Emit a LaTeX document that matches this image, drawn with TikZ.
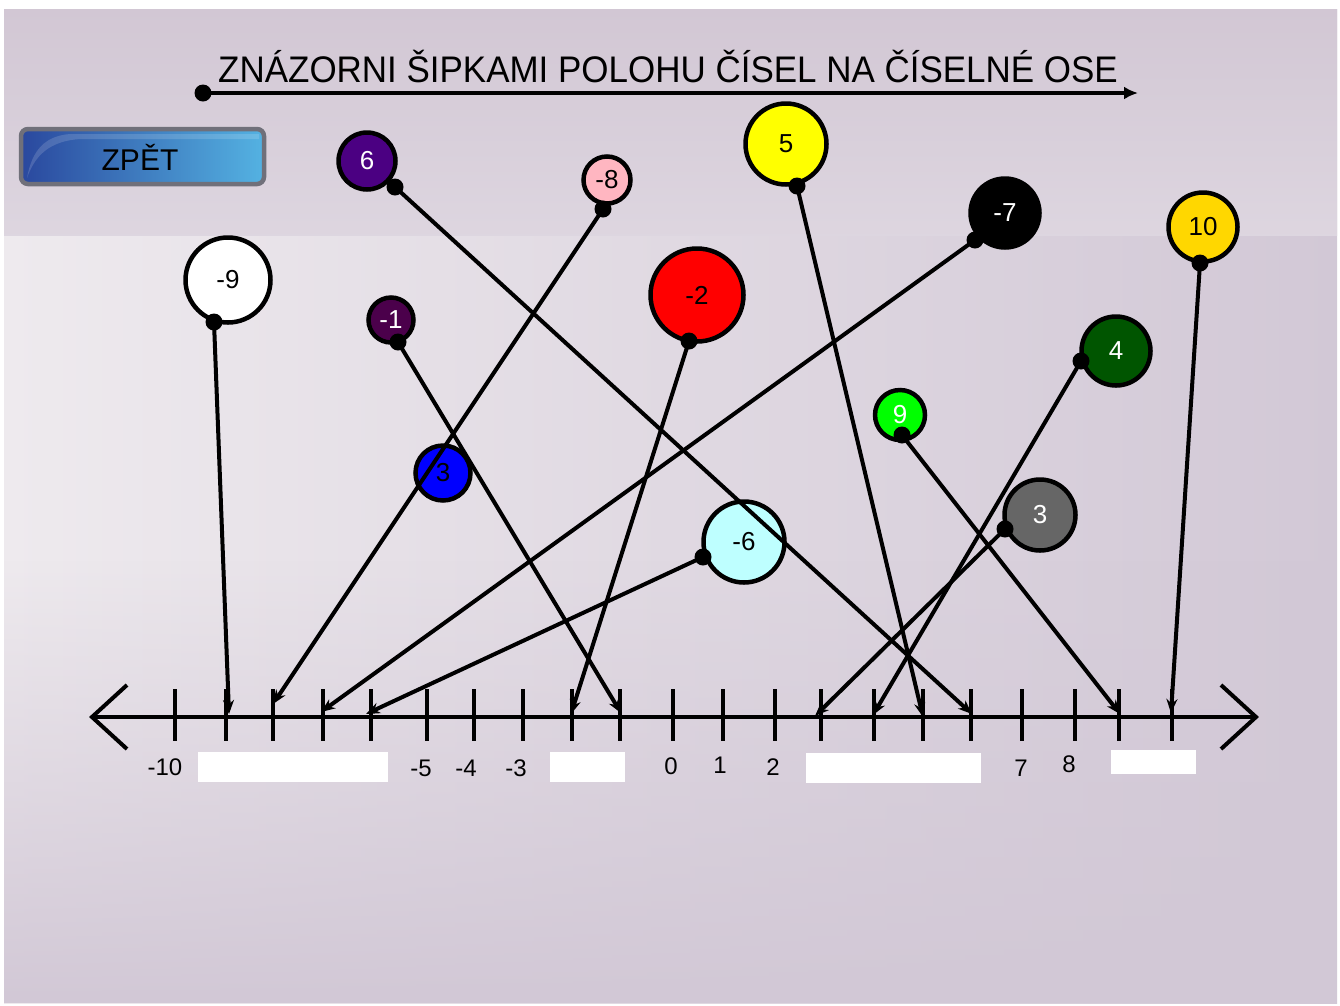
\documentclass[tikz,border=0pt]{standalone}
\usepackage{fontspec}
\setmainfont{Liberation Sans}
\usetikzlibrary{arrows.meta,fadings}
\definecolor{bgA}{RGB}{238,234,238}
\definecolor{bgB}{RGB}{210,200,214}
\definecolor{bgTop}{RGB}{210,199,212}
\definecolor{btnL}{RGB}{42,72,158}
\definecolor{btnR}{RGB}{84,178,226}
\definecolor{btnBorder}{RGB}{112,112,122}
\definecolor{cIndigo}{RGB}{75,0,130}
\definecolor{cPink}{RGB}{255,182,193}
\definecolor{cYellow}{RGB}{255,255,0}
\definecolor{cGold}{RGB}{255,215,0}
\definecolor{cPlum}{RGB}{75,0,75}
\definecolor{cRed}{RGB}{255,0,0}
\definecolor{cDGreen}{RGB}{0,85,0}
\definecolor{cLime}{RGB}{0,255,0}
\definecolor{cBlue}{RGB}{0,0,255}
\definecolor{cCyan}{RGB}{190,255,255}
\definecolor{cGrey}{RGB}{102,102,102}
\begin{document}
\begin{tikzpicture}[x=1pt,y=-1pt,
  ball/.style={circle,draw=black,line width=4.5pt,inner sep=0pt,font=\fontsize{26}{26}\selectfont},
  conn/.style={line width=4pt,-{Stealth[length=14pt,width=11pt]}},
  knob/.style={circle,fill=black,inner sep=0pt,minimum size=17pt},
  tickmark/.style={line width=4.5pt},
  lab/.style={font=\fontsize{24}{24}\selectfont},
  blank/.style={fill=white,draw=none}]
\useasboundingbox (0,0) rectangle (1340,1005);
\fill[white] (0,0) rectangle (1340,1005);
% background
\shade[left color=bgA,right color=bgB] (4,9) rectangle (1337,1003);
\fill[bgB,path fading=north] (4,560) rectangle (1337,1003);
\shade[top color=bgTop,bottom color=bgB!60!bgA] (4,9) rectangle (1337,235);

% title
\node[font=\fontsize{37}{37}\selectfont,anchor=base,xscale=0.945] (title) at (668,82) {ZNÁZORNI ŠIPKAMI POLOHU ČÍSEL NA ČÍSELNÉ OSE};
\node[knob] (tdot) at (203,93) {};
\coordinate (tend) at (1138,93);
\draw[line width=4pt,-{Latex[length=14pt,width=13pt]}] (tdot.center) -- (tend);

% button
\draw[line width=4.5pt,draw=btnBorder,left color=btnL,right color=btnR,rounded corners=7pt] (21,129) rectangle (264,184);
\fill[white,opacity=0.15] (27,178) .. controls (32,150) and (45,136) .. (70,134) -- (259,134) -- (259,139) -- (80,139) .. controls (50,141) and (35,155) .. (27,178) -- cycle;
\node[font=\fontsize{30}{30}\selectfont] (zpet) at (140,157) {ZPĚT};

% axis
\coordinate (axl) at (92,717);
\coordinate (axr) at (1256,717);
\draw[line width=4.5pt] (axl) -- (axr);
\draw[line width=4pt] (127,685) -- (axl) -- (127,749);
\draw[line width=4pt] (1221,685) -- (axr) -- (1221,749);
\foreach \x [count=\i] in {175,226,273,323,371,427,474,523,572,620,673,723,775,821,874,923,971,1022,1075,1119,1172}
  \draw[tickmark] (\x,689) -- (\x,741);

% labels
\node[lab] (l-10) at (165,767) {-10};
\node[lab] (l-5) at (421,768) {-5};
\node[lab] (l-4) at (466,768) {-4};
\node[lab] (l-3) at (516,768) {-3};
\node[lab] (l0) at (671,766) {0};
\node[lab] (l1) at (720,765) {1};
\node[lab] (l2) at (773,767) {2};
\node[lab] (l7) at (1021,768) {7};
\node[lab] (l8) at (1069,764) {8};

% blanks
\fill[blank] (198,752) rectangle (388,782);
\fill[blank] (550,752) rectangle (625,782);
\fill[blank] (806,753) rectangle (981,783);
\fill[blank] (1111,750) rectangle (1196,774);

% balls
\node[ball,fill=cIndigo,text=white,minimum size=57pt] (b6) at (367,161) {6};
\node[ball,fill=cPink,text=black,minimum size=47pt] (bm8) at (607,180) {-8};
\node[ball,fill=cYellow,text=black,minimum size=81pt] (b5) at (786,144) {5};
\node[ball,fill=black,text=white,minimum size=69pt] (bm7) at (1005,213) {-7};
\node[ball,fill=cGold,text=black,minimum size=69pt] (b10) at (1203,227) {10};
\node[ball,fill=white,text=black,minimum size=85pt] (bm9) at (228,280) {-9};
\node[ball,fill=cPlum,text=white,minimum size=45pt] (bm1) at (391,320) {-1};
\node[ball,fill=cRed,text=black,minimum size=93pt] (bm2) at (697,295) {-2};
\node[ball,fill=cDGreen,text=white,minimum size=69pt] (b4) at (1116,351) {4};
\node[ball,fill=cLime,text=white,minimum size=50pt] (b9) at (900,415) {9};
\node[ball,fill=cBlue,text=black,minimum size=55pt] (b3blue) at (443,473) {3};
\node[ball,fill=cCyan,text=black,minimum size=81pt] (bm6) at (744,542) {-6};
\node[ball,fill=cGrey,text=white,minimum size=71pt] (b3grey) at (1040,515) {3};

% knobs
\node[knob] (k6) at (395,187) {};
\node[knob] (km8) at (603,209) {};
\node[knob] (k5) at (797,186) {};
\node[knob] (km7) at (975,240) {};
\node[knob] (k10) at (1200,263) {};
\node[knob] (km9) at (214,322) {};
\node[knob] (km1) at (398,342) {};
\node[knob] (km2) at (689,341) {};
\node[knob] (k4) at (1081,361) {};
\node[knob] (k9) at (902,435) {};
\node[knob] (km6) at (703,557) {};
\node[knob] (k3) at (1005,529) {};

% targets
\coordinate (a6) at (972,714);
\coordinate (am8) at (273,704);
\coordinate (a5) at (923,717);
\coordinate (am7) at (321,712);
\coordinate (a10) at (1171,713);
\coordinate (am9) at (229,714);
\coordinate (am1) at (621,713);
\coordinate (am2) at (571,714);
\coordinate (a4) at (873,715);
\coordinate (a9) at (1120,714);
\coordinate (am6) at (366,714);
\coordinate (a3) at (815,716);

% connectors
\draw[conn] (k6.center) -- (a6);
\draw[conn] (km8.center) -- (am8);
\draw[conn] (k5.center) -- (a5);
\draw[conn] (km7.center) -- (am7);
\draw[conn] (k10.center) -- (a10);
\draw[conn] (km9.center) -- (am9);
\draw[conn] (km1.center) -- (am1);
\draw[conn] (km2.center) -- (am2);
\draw[conn] (k4.center) -- (a4);
\draw[conn] (k9.center) -- (a9);
\draw[conn] (km6.center) -- (am6);
\draw[conn] (k3.center) -- (a3);
\end{tikzpicture}
\end{document}
